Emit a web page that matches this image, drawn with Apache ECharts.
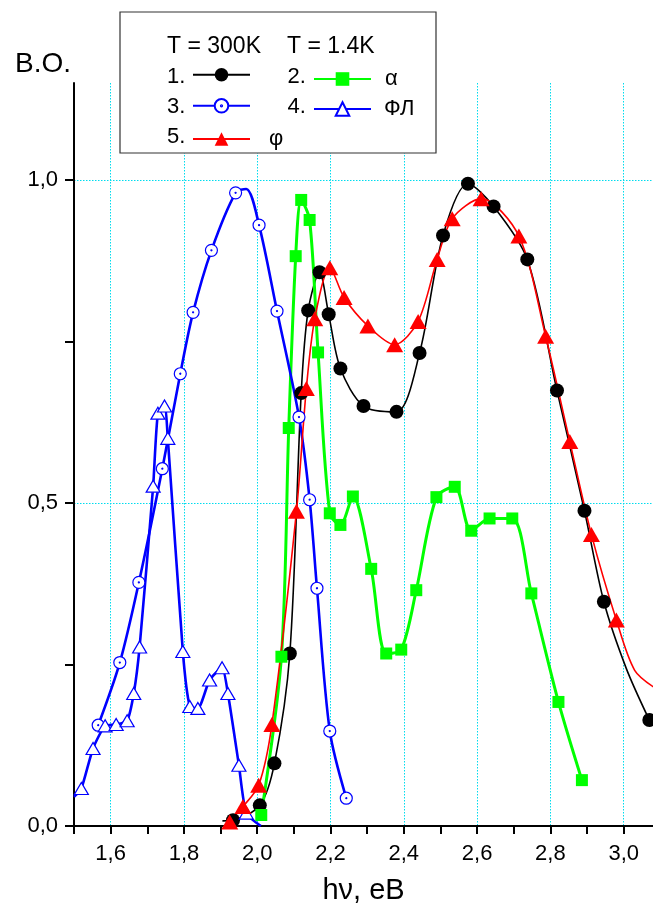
<!DOCTYPE html>
<html><head><meta charset="utf-8">
<script src="https://cdn.jsdelivr.net/npm/echarts@6/dist/echarts.min.js"></script>
<style>html,body{margin:0;padding:0;background:#fff}#c{width:653px;height:914px}</style>
</head><body><div id="c"></div>
<script>
// ---- axis ticks / labels ----
const xTicks = [1.5,1.6,1.7,1.8,1.9,2.0,2.1,2.2,2.3,2.4,2.5,2.6,2.7,2.8,2.9,3.0];
const xLabels = [1.6,1.8,2.0,2.2,2.4,2.6,2.8,3.0];
const yTicks = [0,0.25,0.5,0.75,1.0];
const yLabels = [0,0.5,1.0];
const seriesNames = ['1','2','3','4','5'];
const legendTexts = ['', 'α', '', 'ФЛ', 'φ'];
const headers = ['T = 300K','T = 1.4K'];
const numbers = ['1.','2.','3.','4.','5.'];

// ---- series 1 (black circles) ----
const s1x = [1.934,2.007,2.047,2.089,2.12,2.139,2.17,2.195,2.227,2.29,2.38,2.443,2.507,2.575,2.645,2.737,2.818,2.893,2.946,3.07];
const s1y = [0.009,0.032,0.097,0.267,0.67,0.798,0.857,0.792,0.708,0.65,0.641,0.732,0.914,0.994,0.959,0.877,0.674,0.488,0.347,0.164];
const s1lineX = [1.905,3.007];
const s1lineY = [0.008,0.244];
// ---- series 2 (green squares, alpha) ----
const s2x = [2.011,2.066,2.086,2.105,2.12,2.143,2.166,2.198,2.227,2.261,2.311,2.352,2.393,2.434,2.489,2.539,2.584,2.634,2.696,2.748,2.822,2.886];
const s2y = [0.017,0.262,0.616,0.882,0.969,0.938,0.733,0.484,0.466,0.51,0.398,0.267,0.273,0.365,0.509,0.525,0.457,0.476,0.476,0.36,0.192,0.071];
// ---- series 3 (blue open circles) ----
const s3x = [1.566,1.625,1.677,1.741,1.79,1.825,1.875,1.941,2.005,2.054,2.114,2.143,2.163,2.198,2.243];
const s3y = [0.156,0.253,0.377,0.553,0.70,0.795,0.891,0.980,0.93,0.797,0.633,0.505,0.368,0.147,0.043];
const s3lineX = [1.97];
const s3lineY = [0.986];
// ---- series 4 (blue open triangles, PL) ----
const s4x = [1.52,1.552,1.585,1.615,1.645,1.663,1.679,1.716,1.729,1.747,1.756,1.797,1.816,1.838,1.87,1.904,1.92,1.95,1.97];
const s4y = [0.058,0.12,0.155,0.157,0.163,0.205,0.277,0.526,0.639,0.65,0.60,0.27,0.185,0.182,0.226,0.245,0.205,0.094,0.02];
const s4lineX = [1.50,2.01];
const s4lineY = [0.045,0.0];
// ---- series 5 (red triangles, phi) ----
const s5x = [1.925,1.961,2.004,2.04,2.107,2.134,2.157,2.198,2.237,2.302,2.375,2.439,2.491,2.532,2.611,2.714,2.787,2.853,2.912,2.98];
const s5y = [0.006,0.03,0.063,0.157,0.487,0.677,0.785,0.864,0.818,0.774,0.745,0.781,0.877,0.94,0.971,0.913,0.758,0.595,0.451,0.319];
const s5lineX = [3.03,3.09];
const s5lineY = [0.241,0.212];

function pts(xs, ys, lx, ly) {
  const a = xs.map((x, i) => ({ value: [x, ys[i]] }));
  (lx || []).forEach((x, i) => a.push({ value: [x, ly[i]], symbol: 'none' }));
  a.sort((p, q) => p.value[0] - q.value[0]);
  return a;
}
const fmt = v => (+v).toFixed(1).replace('.', ',');
const FONT = 'Liberation Sans, Arial, Helvetica, sans-serif';
const CYAN = '#00dcee';
const dotCircle = 'path://M0,10A10,10,0,1,1,20,10A10,10,0,1,1,0,10ZM9.1,10A0.9,0.9,0,1,1,10.9,10A0.9,0.9,0,1,1,9.1,10Z';

const chart = echarts.init(document.getElementById('c'), null, { renderer: 'canvas' });

const legendPos = [[192,68],[313,68],[192,98],[313,98],[192,128]];
const legendPad = [0, 9, 0, 8, 14];
const legends = seriesNames.map((n, i) => ({
  data: [n], left: legendPos[i][0], top: legendPos[i][1], padding: 0,
  itemWidth: 57, itemHeight: 17, selectedMode: false, z: 6,
  formatter: () => legendTexts[i],
  textStyle: { fontSize: 22, fontFamily: FONT, color: '#000', lineHeight: 17, padding: [0,0,0,legendPad[i]] }
}));

const graphics = [
  { type: 'rect', z: 3, shape: { x: 120, y: 12, width: 316, height: 141 },
    style: { fill: '#fff', stroke: '#333', lineWidth: 1.2 } },
  { type: 'text', z: 5, x: 167, y: 46.7, style: { text: headers[0], font: '23px ' + FONT, fill: '#000', verticalAlign: 'middle' } },
  { type: 'text', z: 5, x: 287, y: 46.7, style: { text: headers[1], font: '23px ' + FONT, fill: '#000', verticalAlign: 'middle' } }
];
const numPos = [[167,76.7],[287.5,76.7],[167,106.7],[287.5,106.7],[167,136.7]];
numbers.forEach((t, i) => graphics.push({ type: 'text', z: 5, x: numPos[i][0], y: numPos[i][1],
  style: { text: t, font: '22px ' + FONT, fill: '#000', verticalAlign: 'middle' } }));

chart.setOption({
  animation: false,
  backgroundColor: '#fff',
  grid: { left: 74, right: 0, top: 83, bottom: 88, containLabel: false, outerBoundsMode: 'none' },
  legend: legends,
  graphic: graphics,
  xAxis: {
    type: 'value', min: 1.5, max: 3.08,
    name: 'hν, eB', nameLocation: 'middle', nameGap: 50,
    nameTextStyle: { fontSize: 29, fontFamily: FONT, color: '#000' },
    axisLine: { lineStyle: { color: '#000', width: 2 } },
    axisTick: { customValues: xTicks, length: 8, lineStyle: { color: '#000', width: 2 } },
    axisLabel: { customValues: xLabels, formatter: fmt, fontSize: 22, fontFamily: FONT, color: '#000', margin: 17 },
    splitLine: { show: true, lineStyle: { color: ['rgba(0,0,0,0)', CYAN], width: 1, type: [1.5, 1.5] } }
  },
  yAxis: {
    type: 'value', min: 0, max: 1.15,
    name: 'B.O.', nameLocation: 'end', nameGap: 5,
    nameTextStyle: { fontSize: 28, fontFamily: FONT, color: '#000', align: 'right', padding: [0, 3, 0, 0] },
    axisLine: { show: true, lineStyle: { color: '#000', width: 2 } },
    axisTick: { show: true, customValues: yTicks, length: 9, lineStyle: { color: '#000', width: 2 } },
    axisLabel: { customValues: yLabels, formatter: fmt, fontSize: 22, fontFamily: FONT, color: '#000', margin: 16 },
    splitLine: { show: true, lineStyle: { color: ['rgba(0,0,0,0)', 'rgba(0,0,0,0)', CYAN, 'rgba(0,0,0,0)', CYAN], width: 1, type: [1.5, 1.5] } }
  },
  series: [
    { name: seriesNames[0], type: 'line', smooth: 0.3, z: 3,
      data: pts(s1x, s1y, s1lineX, s1lineY), symbol: 'circle', symbolSize: 14,
      lineStyle: { color: '#000', width: 1.6 }, itemStyle: { color: '#000' } },
    { name: seriesNames[1], type: 'line', smooth: 0.3, z: 3,
      data: pts(s2x, s2y), symbol: 'rect', symbolSize: 12,
      lineStyle: { color: '#00ff00', width: 3 }, itemStyle: { color: '#00ff00' } },
    { name: seriesNames[2], type: 'line', smooth: 0.3, z: 3,
      data: pts(s3x, s3y, s3lineX, s3lineY), symbol: dotCircle, symbolSize: 12,
      lineStyle: { color: '#0000ff', width: 2.6 }, itemStyle: { color: '#fff', borderColor: '#0000ff', borderWidth: 1.2 } },
    { name: seriesNames[3], type: 'line', smooth: 0.2, z: 3,
      data: pts(s4x, s4y, s4lineX, s4lineY), symbol: 'triangle', symbolSize: [14, 12],
      lineStyle: { color: '#0000ff', width: 2.6 }, itemStyle: { color: '#fff', borderColor: '#0000ff', borderWidth: 1.2 } },
    { name: seriesNames[4], type: 'line', smooth: 0.3, z: 3,
      data: pts(s5x, s5y, s5lineX, s5lineY), symbol: 'triangle', symbolSize: [17, 15],
      lineStyle: { color: '#ff0000', width: 1.6 }, itemStyle: { color: '#ff0000' } }
  ]
});
</script>
</body></html>
